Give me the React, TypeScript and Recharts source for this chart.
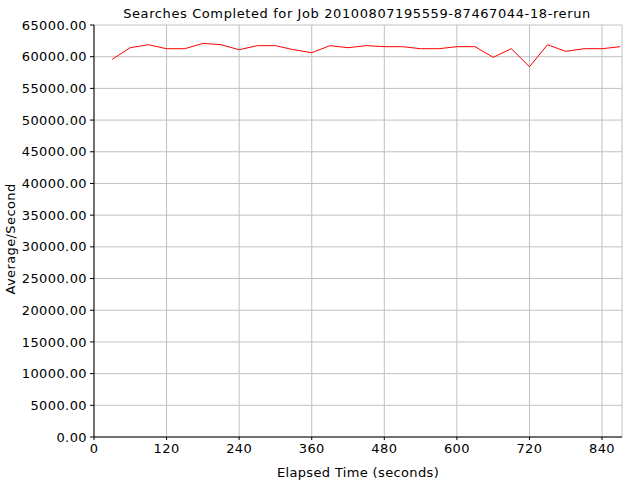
import { LineChart, Line, XAxis, YAxis, CartesianGrid } from 'recharts';

// elapsed seconds and average searches per second
const elapsed = [
  30, 60, 90, 120, 150, 180, 210, 240, 270, 300,
  330, 360, 390, 420, 450, 480, 510, 540, 570, 600,
  630, 660, 690, 720, 750, 780, 810, 840, 870,
];
const perSecond = [
  59580, 61420, 61890, 61260, 61260, 62100, 61890, 61100, 61740, 61740,
  61100, 60630, 61740, 61420, 61740, 61580, 61580, 61260, 61260, 61580,
  61580, 59900, 61260, 58420, 61890, 60840, 61260, 61260, 61580,
];
const xTicks = [0, 120, 240, 360, 480, 600, 720, 840];
const yTicks = [0, 5000, 10000, 15000, 20000, 25000, 30000, 35000, 40000, 45000, 50000, 55000, 60000, 65000];

const title = 'Searches Completed for Job 20100807195559-87467044-18-rerun';
const xLabel = 'Elapsed Time (seconds)';
const yLabel = 'Average/Second';

export default function App() {
  const data = elapsed.map((t, i) => ({ t, v: perSecond[i] }));
  const font = '"DejaVu Sans", sans-serif';
  const tickStyle = { fontSize: 13, fill: '#000', fontFamily: font, letterSpacing: 0.4 };

  return (
    <div style={{ position: 'absolute', left: 0, top: 0, width: 640, height: 480, background: '#fff' }}>
      <LineChart width={640} height={480} data={data} margin={{ top: 25, right: 18, bottom: 0, left: 0 }}>
        <CartesianGrid stroke="#c0c0c0" strokeWidth={1} />
        <text x={357} y={18} textAnchor="middle" fontSize={13} fontFamily={font} letterSpacing={0.6} fill="#000">
          {title}
        </text>
        <text x={358} y={477} textAnchor="middle" fontSize={13} fontFamily={font} letterSpacing={0.35} fill="#000">
          {xLabel}
        </text>
        <text
          x={15}
          y={239}
          textAnchor="middle"
          fontSize={13}
          fontFamily={font}
          letterSpacing={0.4}
          fill="#000"
          transform="rotate(-90 15 239)"
        >
          {yLabel}
        </text>
        <XAxis
          dataKey="t"
          type="number"
          domain={[0, 873]}
          ticks={xTicks}
          height={43}
          tick={tickStyle}
          tickSize={3}
          tickMargin={4}
          stroke="#000"
          tickLine={{ stroke: '#000' }}
          axisLine={{ stroke: '#000' }}
        />
        <YAxis
          type="number"
          domain={[0, 65000]}
          ticks={yTicks}
          width={94}
          tick={tickStyle}
          tickSize={4}
          tickMargin={3}
          tickFormatter={(v: number) => v.toFixed(2)}
          stroke="#000"
          tickLine={{ stroke: '#000' }}
          axisLine={{ stroke: '#000' }}
        />
        <Line
          type="linear"
          dataKey="v"
          stroke="#ff0000"
          strokeWidth={1}
          dot={false}
          isAnimationActive={false}
        />
      </LineChart>
    </div>
  );
}
